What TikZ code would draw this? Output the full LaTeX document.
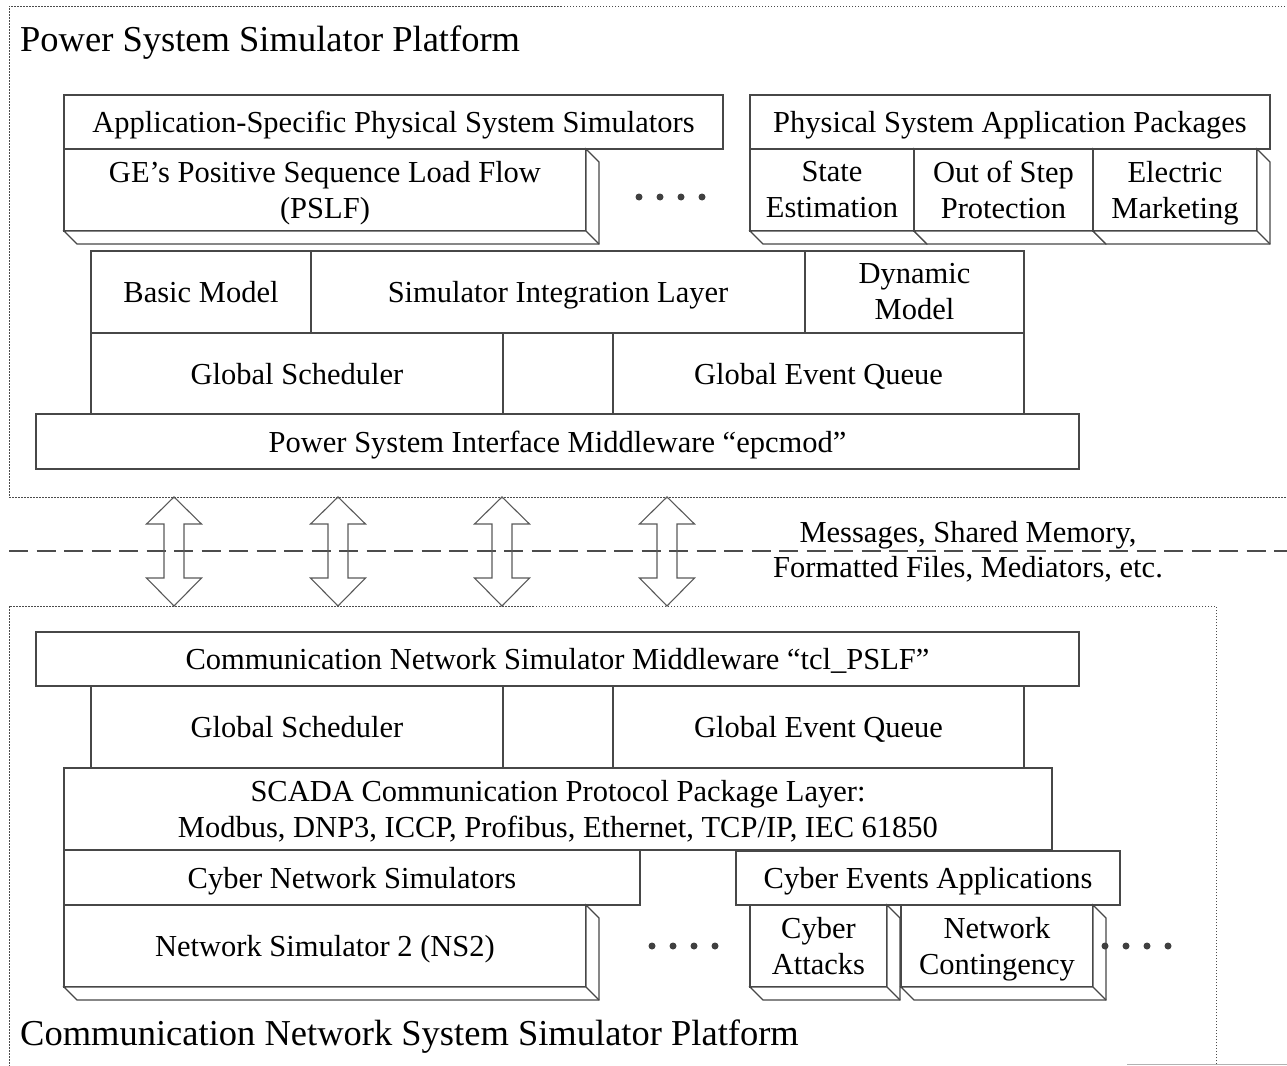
\documentclass[tikz,border=0pt]{standalone}
\usepackage{fontspec}
\setmainfont{Liberation Serif}
\newcommand\lastl[1]{\raisebox{0pt}[\height][0pt]{#1}}
\newcommand\bx[7][box1]{\node[#1, minimum width={#5-#3}, minimum height={#6-#4}] (#2) at ({(#3+#5)/2},{(#4+#6)/2}) {#7};}
\newcommand\bevelbox[7][box1]{\bx[#1]{#2}{#3}{#4}{#5}{#6}{#7}
  \draw[bevel] (#2.south west) -- ++(13,13) -- ([shift={(13,13)}]#2.south east) -- ([shift={(13,13)}]#2.north east) -- (#2.north east) -- (#2.south east) -- cycle;
  \draw[bevel] (#2.south east) -- ++(13,13);}
\newcommand\dblarr[2]{\draw[dblarrow] (#2,497) -- ({#2+27.5},524) -- ({#2+10},524) -- ({#2+10},578) -- ({#2+27.5},578) -- (#2,606) -- ({#2-27.5},578) -- ({#2-10},578) -- ({#2-10},524) -- ({#2-27.5},524) -- cycle;}
\tikzset{
  box/.style={draw=black!72, line width=1.2pt, fill=white, inner sep=0pt, outer sep=0pt, align=center, font=\fontsize{30.5}{36}\selectfont},
  box1/.style={box, text height=21pt, text depth=0pt},
  box2/.style={box},
  bevel/.style={draw=black!72, line width=1.2pt, fill=white, line join=miter},
  frame/.style={draw=black!70, line width=0.8pt, dash pattern=on 1.5pt off 1.5pt, inner sep=0pt, outer sep=0pt},
  title/.style={font=\fontsize{36.5}{40}\selectfont, anchor=base west, inner sep=0pt},
  dotmark/.style={circle, fill=black!75, inner sep=0pt, minimum size=7pt},
  sepline/.style={draw=black!70, line width=2pt, dash pattern=on 19pt off 8.5pt},
  dblarrow/.style={draw=black!65, line width=1.1pt, line join=miter},
  msg/.style={inner sep=0pt, align=center, font=\fontsize{30.5}{35}\selectfont}
}
\begin{document}
\begin{tikzpicture}[x=1pt, y=-1pt]
\useasboundingbox (0,0) rectangle (1287,1065);
\clip (0,0) rectangle (1287,1065);
% platform frames
\node[frame, minimum width=1300, minimum height=491, anchor=north west] (pframe) at (9,6) {};
\node[frame, minimum width=1207, minimum height=520, anchor=north west] (cframe) at (9,606) {};
\node[title] (ptitle) at (20,52) {Power System Simulator Platform};
\node[title] (ctitle) at (20,1045) {Communication Network System Simulator Platform};
\draw[black!30, line width=1pt] (1127,1064) -- (1287,1064);
% separator and interface arrows
\draw[sepline] (9,551) -- (1287,551);
\dblarr{a1}{174}
\dblarr{a2}{338}
\dblarr{a3}{502}
\dblarr{a4}{667}
\node[msg] (msgtext) at (968,549) {Messages, Shared Memory,\\\lastl{Formatted Files, Mediators, etc.}};
% power system platform
\bx{asp}{64}{95}{723}{149}{Application-Specific Physical System Simulators}
\bevelbox[box2]{pslf}{64}{149}{586}{231}{GE's Positive Sequence Load Flow\\\lastl{(PSLF)}}
\bx{pap}{750}{95}{1270}{149}{Physical System Application Packages}
\bevelbox[box2]{se}{750}{149}{914}{231}{State\\Estimation}
\bevelbox[box2]{oos}{914}{149}{1093}{231}{Out of Step\\Protection}
\bevelbox[box2]{em}{1093}{149}{1257}{231}{Electric\\\lastl{Marketing}}
\foreach \i/\x in {1/639,2/660,3/681,4/702} \node[dotmark] (tdot\i) at (\x,197) {};
\bx{bm}{91}{251}{311}{333}{Basic Model}
\bx{sil}{311}{251}{805}{333}{Simulator Integration Layer}
\bx[box2]{dm}{805}{251}{1024}{333}{Dynamic\\Model}
\bx{gs}{91}{333}{503}{414}{Global Scheduler}
\bx{gmid}{503}{333}{613}{414}{}
\bx{geq}{613}{333}{1024}{414}{Global Event Queue}
\bx{epc}{36}{414}{1079}{469}{Power System Interface Middleware ``epcmod''}
% communication network platform
\bx{tcl}{36}{632}{1079}{686}{Communication Network Simulator Middleware ``tcl\_PSLF''}
\bx{gs2}{91}{686}{503}{768}{Global Scheduler}
\bx{gmid2}{503}{686}{613}{768}{}
\bx{geq2}{613}{686}{1024}{768}{Global Event Queue}
\bx[box2]{scada}{64}{768}{1052}{850}{SCADA Communication Protocol Package Layer:\\\lastl{Modbus, DNP3, ICCP, Profibus, Ethernet, TCP/IP, IEC 61850}}
\bx{cns}{64}{850}{640}{905}{Cyber Network Simulators}
\bevelbox{ns2}{64}{905}{586}{987}{Network Simulator 2 (NS2)}
\bx{cea}{736}{851}{1120}{905}{Cyber Events Applications}
\bevelbox[box2]{ca}{750}{905}{887}{987}{Cyber\\Attacks}
\bevelbox[box2]{nc}{901}{905}{1093}{987}{Network\\\lastl{Contingency}}
\foreach \i/\x in {1/652,2/673,3/694,4/715} \node[dotmark] (bdot\i) at (\x,946) {};
\foreach \i/\x in {1/1105,2/1126,3/1147,4/1168} \node[dotmark] (rdot\i) at (\x,946) {};
\end{tikzpicture}
\end{document}
